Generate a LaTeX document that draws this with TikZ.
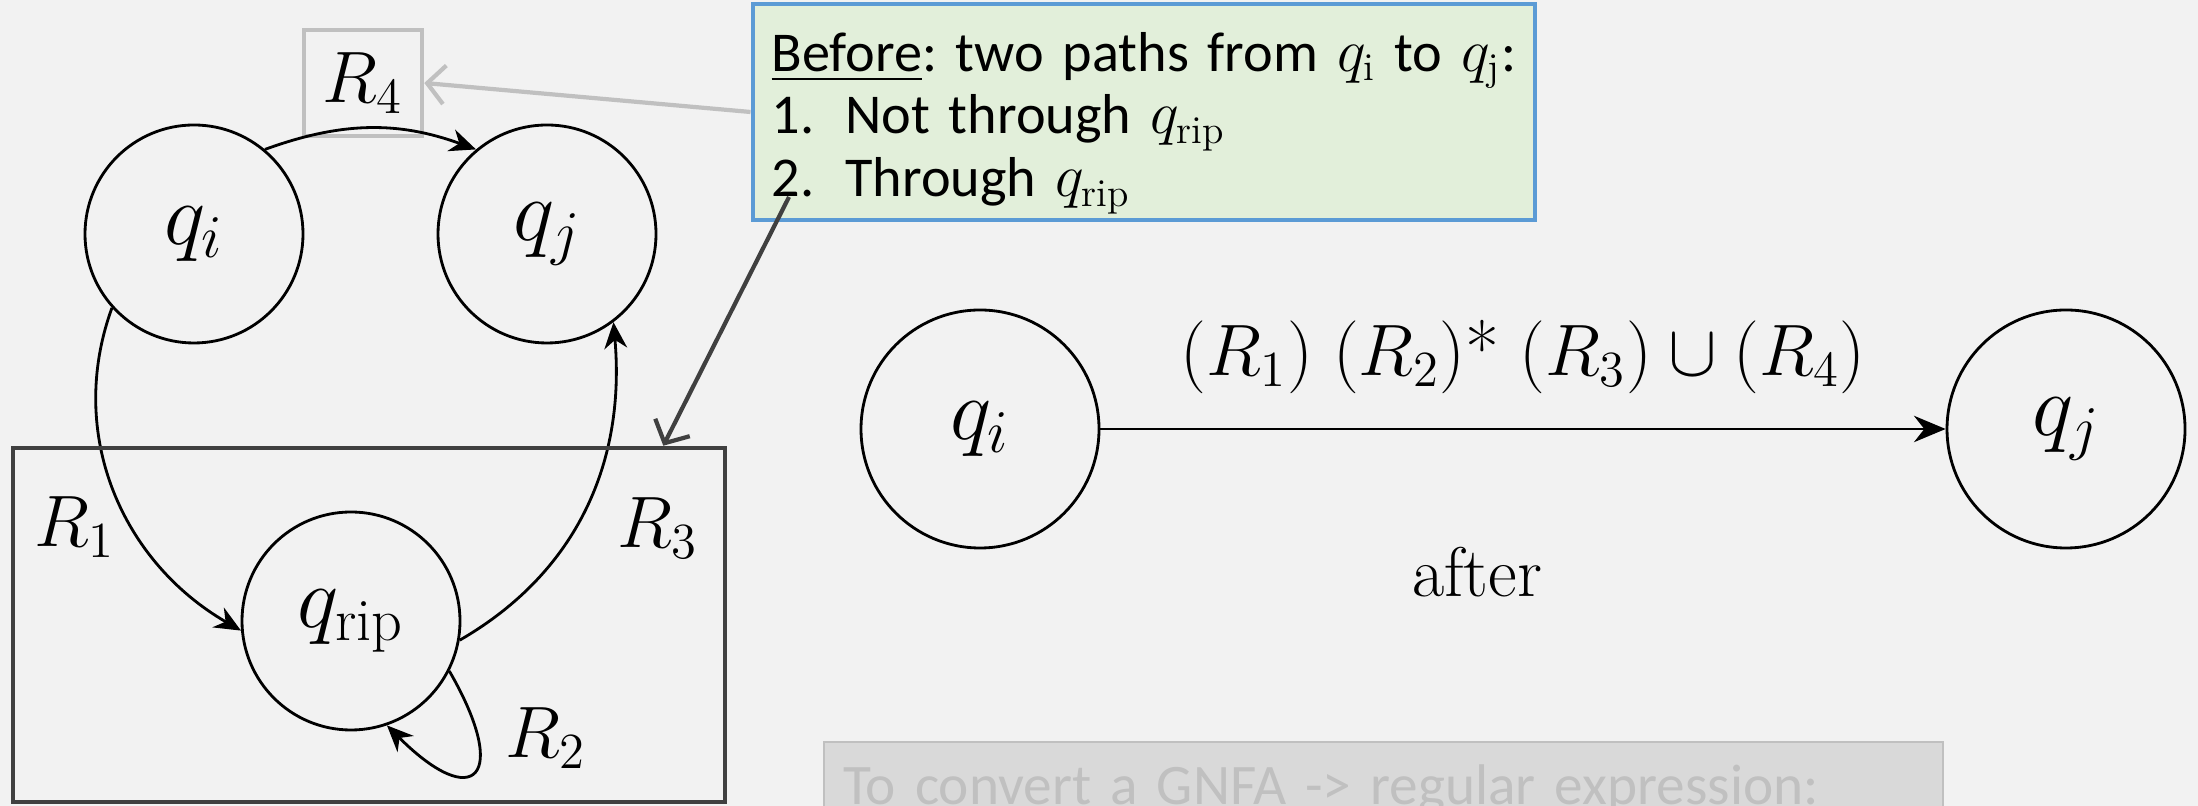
\documentclass[tikz,border=0pt]{standalone}
\usepackage{amsmath,amssymb}
\usepackage{fontspec}
\newfontfamily\notefont{Carlito}
\usepackage{xcolor}
\usepackage{tikz}
\usetikzlibrary{arrows.meta, positioning}
\definecolor{slidebg}{HTML}{F2F2F2}
\definecolor{notefill}{HTML}{E2EFDA}
\definecolor{noteline}{HTML}{5B9BD5}
\definecolor{darkline}{HTML}{404040}
\definecolor{paleline}{HTML}{C0C0C0}
\definecolor{hintfill}{HTML}{D9D9D9}
\tikzset{
    qstate/.style = {circle, draw=black, line width=0.8pt, minimum size=2.18cm, inner sep=0pt, font=\fontsize{24.5}{29}\selectfont},
    bigstate/.style = {qstate, minimum size=2.38cm, font=\fontsize{27}{32}\selectfont},
    elabel/.style = {font=\fontsize{20}{24}\selectfont},
    rlabel/.style = {font=\fontsize{21}{25}\selectfont},
    trans/.style = {line width=0.8pt, -{Stealth[length=7.5pt, width=6.5pt]}},
    pointer/.style = {line width=1.2pt, -{Straight Barb[length=5pt, width=11pt]}},
    note/.style = {rectangle, draw=noteline, line width=1.4pt, fill=notefill, text width=7.45cm, align=left, inner xsep=0.185cm, inner ysep=0pt, minimum height=2.16cm, font=\notefont\fontsize{16}{17.9}\selectfont\frenchspacing},
    hint/.style = {rectangle, draw=paleline, line width=0.6pt, fill=hintfill, text=paleline, text width=10.81cm, align=left, inner xsep=0.19cm, inner ysep=0pt, text height=0.63cm, text depth=0.7cm, font=\notefont\fontsize{16.3}{19}\selectfont\frenchspacing}
}

\begin{document}
\begin{tikzpicture}
\useasboundingbox (0,0) rectangle (21.98,8.06);
\fill [slidebg] (0,0) rectangle (21.98,8.06);
\clip (0,0) rectangle (21.98,8.06);

% before: three states
\node (qi) [qstate] at (1.94,5.72) {$q_i$};
\node (qj) [qstate, right of=qi, node distance=3.53cm] {$q_j$};
\node (qrip) [qstate] at (3.51,1.85) {$q_{\mathrm{rip}}$};

\node (r4) [elabel, draw=paleline, line width=1.3pt, minimum width=1.18cm, minimum height=1.06cm] at (3.63,7.23) {$R_4$};
\node (r1) [elabel] at (0.75,2.79) {$R_1$};
\node (r3) [elabel] at (6.58,2.78) {$R_3$};
\node (r2) [elabel] at (5.46,0.68) {$R_2$};

\draw [trans] (qi.50) to[out=20, in=160] (qj.130);
\draw [trans] (qi.222) to[out=250, in=150] (qrip.185);
\draw [trans] (qrip.350) to[out=30, in=275] (qj.307);
\draw [trans] (qrip.333) to[out=-60, in=-45, looseness=3.8] (qrip.289);

\node (focus) [draw=darkline, line width=1.3pt, minimum width=7.12cm, minimum height=3.54cm] at (3.69,1.81) {};

% callout
\node (note) [note] at (11.44,6.94) {\rule{0pt}{0.67cm}\underline{Before}: two paths from $q_{\mathrm{i}}$ to $q_{\mathrm{j}}$:\\
\makebox[0.74cm][l]{1.}Not through $q_{\mathrm{rip}}$\\
\makebox[0.74cm][l]{2.}Through $q_{\mathrm{rip}}$\rule[-0.23cm]{0pt}{0.23cm}};
\coordinate (twomark) at (7.89,6.09);

\draw [pointer, paleline] (note.west) -- (r4.east);
\draw [pointer, darkline] (twomark) -- ([xshift=-0.64cm]focus.north east);

% after
\node (qa) [bigstate] at (9.80,3.77) {$q_i$};
\node (qb) [bigstate, right of=qa, node distance=10.86cm] {$q_j$};
\draw [trans, -{Stealth[length=9pt, width=7.5pt]}] (qa) -- node[rlabel, above=0.22cm] (rex) {$(R_1)\;(R_2)\text{*}\;(R_3)\cup(R_4)$} (qb);
\node (after) [font=\fontsize{20}{24}\selectfont, anchor=base] at (14.77,2.09) {after};

\node (hint) [hint, anchor=base west] at (8.23,0.01) {To convert a GNFA -> regular expression:};
\end{tikzpicture}
\end{document}
